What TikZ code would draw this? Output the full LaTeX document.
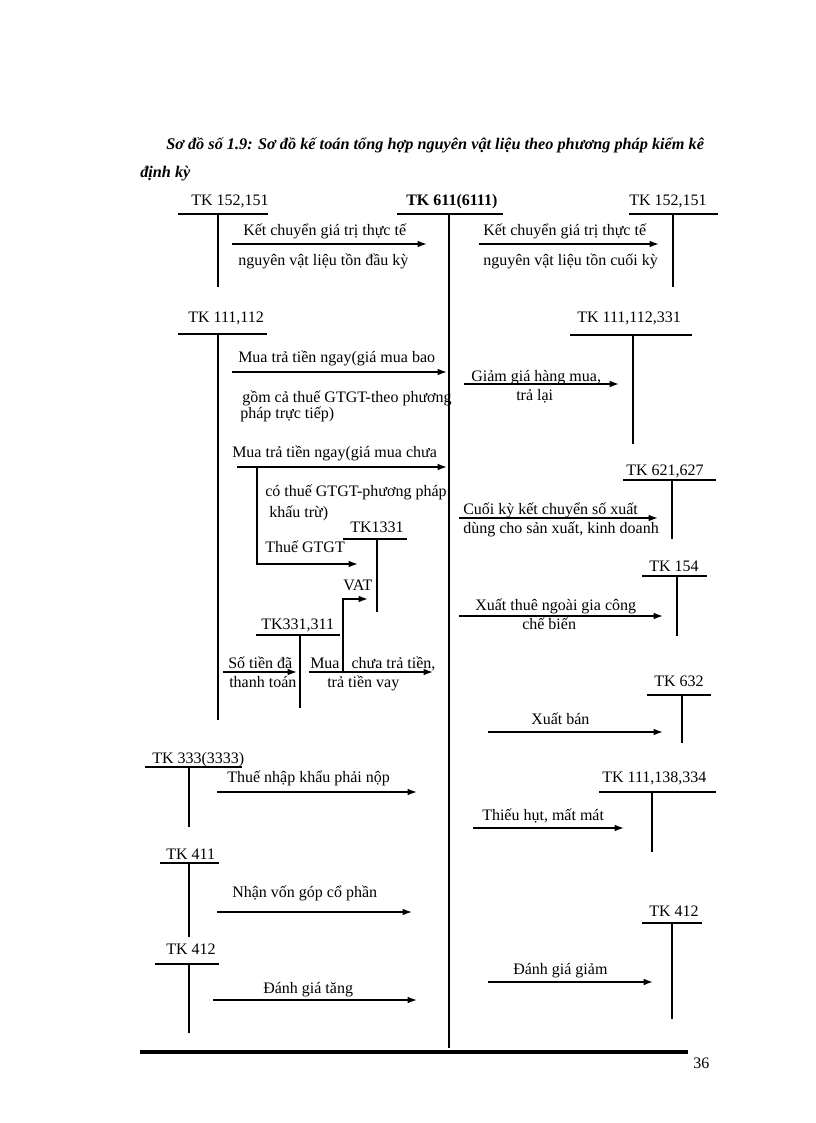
\documentclass[tikz,border=0pt]{standalone}
\usepackage{fontspec}
\setmainfont{Liberation Serif}
\usetikzlibrary{arrows.meta}
\begin{document}
\begin{tikzpicture}[x=0.75pt,y=-0.75pt,
  txt/.style={inner sep=0pt,anchor=base west,font=\fontsize{12}{14}\selectfont},
  tk/.style={txt},
  tline/.style={line width=1.1pt},
  arr/.style={line width=1.1pt,-{Latex[length=7pt,width=5pt]}},
  ttl/.style={inner sep=0pt,anchor=base west,font=\fontsize{12.2}{14}\selectfont\bfseries\itshape}]
\useasboundingbox[fill=white] (0,0) rectangle (816,1123);

% title
\node[ttl] (title1) at (166,150) {Sơ đồ số 1.9: Sơ đồ kế toán tổng hợp nguyên vật liệu theo phương pháp kiểm kê};
\node[ttl] (title2) at (140,178) {định kỳ};

% ---------- top row
\node[tk] (tA) at (191,205) {TK 152,151};
\node[tk,font=\fontsize{12}{14}\selectfont\bfseries] (tM) at (406,205) {TK 611(6111)};
\node[tk] (tB) at (629,205) {TK 152,151};
\draw[tline] (178,214) -- (268,214);
\draw[tline] (218,214) coordinate (tAtop) -- (218,287) coordinate (tAbot);
\draw[tline] (397,214) -- (503,214);
\draw[tline] (449,214) coordinate (mtop) -- (449,1048) coordinate (mbot);
\draw[tline] (629,214) -- (718,214);
\draw[tline] (673,214) coordinate (tBtop) -- (673,287) coordinate (tBbot);

\coordinate (a1s) at (232,244); \coordinate (a1e) at (427,244);
\draw[arr] (a1s) -- (a1e);
\node[txt] (l1a) at (243,235) {Kết chuyển giá trị thực tế};
\node[txt] (l1b) at (238,265) {nguyên vật liệu tồn đầu kỳ};
\coordinate (a2s) at (479,244); \coordinate (a2e) at (659,244);
\draw[arr] (a2s) -- (a2e);
\node[txt] (l2a) at (483,235) {Kết chuyển giá trị thực tế};
\node[txt] (l2b) at (483,265) {nguyên vật liệu tồn cuối kỳ};

% ---------- TK 111,112
\node[tk] (t111) at (188,322) {TK 111,112};
\draw[tline] (178,334) -- (267,334);
\draw[tline] (218,334) coordinate (t111top) -- (218,720) coordinate (t111bot);

\coordinate (a3s) at (232,372); \coordinate (a3e) at (447,372);
\draw[arr] (a3s) -- (a3e);
\node[txt] (l3a) at (238,362) {Mua trả tiền ngay(giá mua bao};
\node[txt] (l3b) at (242,402) {gồm cả thuế GTGT-theo phương};
\node[txt] (l3c) at (240,418) {pháp trực tiếp)};

\coordinate (a4s) at (237,467); \coordinate (a4e) at (447,467);
\draw[arr] (a4s) -- (a4e);
\node[txt] (l4a) at (232,457) {Mua trả tiền ngay(giá mua chưa};
\node[txt] (l4b) at (265,496) {có thuế GTGT-phương pháp};
\node[txt] (l4c) at (269,517) {khấu trừ)};

% branch to TK1331
\coordinate (b1s) at (257,467); \coordinate (b1c) at (257,564); \coordinate (b1e) at (358,564);
\draw[arr] (b1s) -- (b1c) -- (b1e);
\node[txt] (l5) at (265,552) {Thuế GTGT};

% TK1331
\node[tk] (t1331) at (350,532) {TK1331};
\draw[tline] (343,539) -- (407,539);
\draw[tline] (377,539) coordinate (t1331top) -- (377,612) coordinate (t1331bot);

\node[txt] (lvat) at (343,590) {VAT};
\coordinate (v1s) at (343,672); \coordinate (v1c) at (343,599); \coordinate (v1e) at (368,599);
\draw[arr] (v1s) -- (v1c) -- (v1e);

% TK331,311
\node[tk] (t331) at (261,629) {TK331,311};
\draw[tline] (256,635) -- (340,635);
\draw[tline] (300,635) coordinate (t331top) -- (300,708) coordinate (t331bot);

\coordinate (a6s) at (223,672); \coordinate (a6e) at (297,672);
\draw[arr] (a6s) -- (a6e);
\node[txt] (l6a) at (228,668) {Số tiền đã};
\node[txt] (l6b) at (229,687) {thanh toán};

\coordinate (a7s) at (309,672); \coordinate (a7e) at (433,672);
\draw[arr] (a7s) -- (a7e);
\node[txt] (l7a) at (310,668) {Mua\hspace{9pt}chưa trả tiền,};
\node[txt] (l7b) at (327,687) {trả tiền vay};

% ---------- right side
\node[tk] (t1123) at (577,322) {TK 111,112,331};
\draw[tline] (570,335) -- (692,335);
\draw[tline] (633,335) coordinate (t1123top) -- (633,444) coordinate (t1123bot);
\coordinate (r1s) at (464,384); \coordinate (r1e) at (619,384);
\draw[arr] (r1s) -- (r1e);
\node[txt] (lr1a) at (471,381) {Giảm giá hàng mua,};
\node[txt] (lr1b) at (516,400) {trả lại};

\node[tk] (t621) at (626,475) {TK 621,627};
\draw[tline] (623,480) -- (716,480);
\draw[tline] (672,480) coordinate (t621top) -- (672,539) coordinate (t621bot);
\coordinate (r2s) at (459,518); \coordinate (r2e) at (658,518);
\draw[arr] (r2s) -- (r2e);
\node[txt] (lr2a) at (463,514) {Cuối kỳ kết chuyển số xuất};
\node[txt] (lr2b) at (463,533) {dùng cho sản xuất, kinh doanh};

\node[tk] (t154) at (649,571) {TK 154};
\draw[tline] (642,576) -- (707,576);
\draw[tline] (677,576) coordinate (t154top) -- (677,636) coordinate (t154bot);
\coordinate (r3s) at (459,616); \coordinate (r3e) at (663,616);
\draw[arr] (r3s) -- (r3e);
\node[txt] (lr3a) at (475,610) {Xuất thuê ngoài gia công};
\node[txt] (lr3b) at (522,629) {chế biến};

\node[tk] (t632) at (654,686) {TK 632};
\draw[tline] (647,695) -- (711,695);
\draw[tline] (682,695) coordinate (t632top) -- (682,743) coordinate (t632bot);
\coordinate (r4s) at (488,732); \coordinate (r4e) at (663,732);
\draw[arr] (r4s) -- (r4e);
\node[txt] (lr4) at (531,724) {Xuất bán};

\node[tk] (t1138) at (602,782) {TK 111,138,334};
\draw[tline] (599,792) -- (716,792);
\draw[tline] (652,792) coordinate (t1138top) -- (652,852) coordinate (t1138bot);
\coordinate (r5s) at (473,828); \coordinate (r5e) at (624,828);
\draw[arr] (r5s) -- (r5e);
\node[txt] (lr5) at (482,820) {Thiếu hụt, mất mát};

\node[tk] (t412r) at (649,916) {TK 412};
\draw[tline] (642,923) -- (702,923);
\draw[tline] (672,923) coordinate (t412rtop) -- (672,1019) coordinate (t412rbot);
\coordinate (r6s) at (488,982); \coordinate (r6e) at (653,982);
\draw[arr] (r6s) -- (r6e);
\node[txt] (lr6) at (513,974) {Đánh giá giảm};

% ---------- left bottom
\node[tk] (t333) at (152,763) {TK 333(3333)};
\draw[tline] (145,767) -- (242,767);
\draw[tline] (189,767) coordinate (t333top) -- (189,827) coordinate (t333bot);
\coordinate (l8s) at (217,792); \coordinate (l8e) at (417,792);
\draw[arr] (l8s) -- (l8e);
\node[txt] (ll8) at (227,782) {Thuế nhập khẩu phải nộp};

\node[tk] (t411) at (166,859) {TK 411};
\draw[tline] (160,863) -- (219,863);
\draw[tline] (189,863) coordinate (t411top) -- (189,937) coordinate (t411bot);
\coordinate (l9s) at (217,912); \coordinate (l9e) at (412,912);
\draw[arr] (l9s) -- (l9e);
\node[txt] (ll9) at (232,897) {Nhận vốn góp cổ phần};

\node[tk] (t412l) at (166,954) {TK 412};
\draw[tline] (155,964) -- (219,964);
\draw[tline] (189,964) coordinate (t412ltop) -- (189,1033) coordinate (t412lbot);
\coordinate (l10s) at (213,1000); \coordinate (l10e) at (417,1000);
\draw[arr] (l10s) -- (l10e);
\node[txt] (ll10) at (263,993) {Đánh giá tăng};

% footer
\draw[line width=2.3pt] (140,1052) coordinate (fs) -- (688,1052) coordinate (fe);
\node[txt] (pg) at (693,1068) {36};
\end{tikzpicture}
\end{document}
